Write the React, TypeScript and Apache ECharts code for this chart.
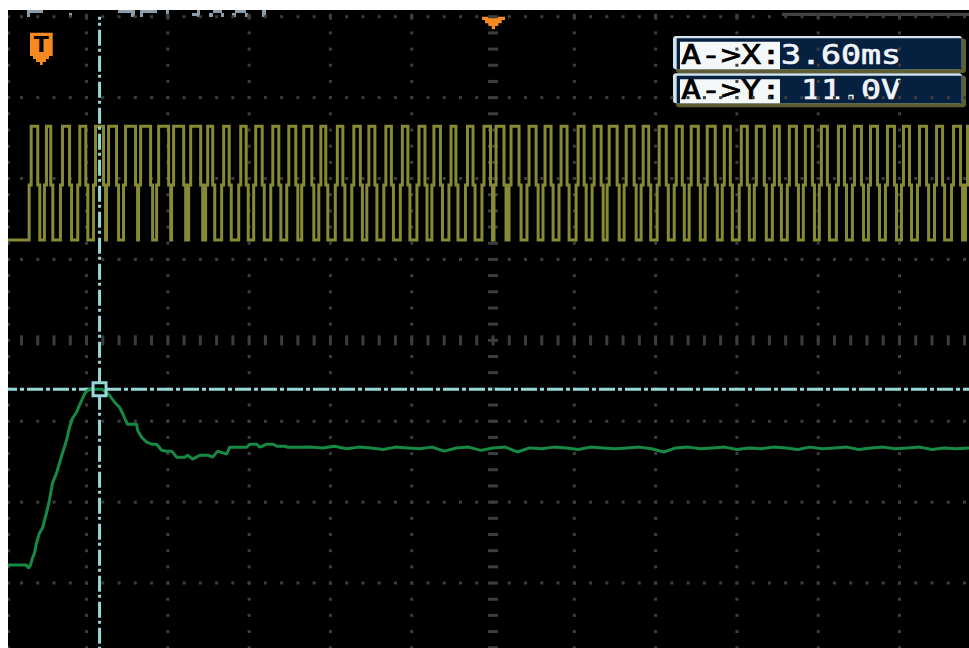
import React, { useEffect, useRef } from "react";
import * as echarts from "echarts";

// Axes in screen divisions: time (trigger at 0) and level
const X_MIN = -5.966;
const X_MAX = 5.855;
const Y_MIN = -3.803;
const Y_MAX = 4.083;

const GRID_COLS = [-6, -5, -4, -3, -2, -1, 1, 2, 3, 4, 5, 6];
const GRID_ROWS = [-4, -3, -2, -1, 1, 2, 3, 4];
const MINOR_STEP = 0.2;

// CH1 (yellow) PWM signal: displayed levels and edge sample spacing
const ch1High = 2.645;
const ch1Mid = 1.92;
const ch1Low = 1.24;
const ch1Edge = 0.025;
const ch1Rise = [
  -5.681, -5.493, -5.296, -5.083, -4.889, -4.729, -4.52, -4.335, -4.113, -3.929,
  -3.719, -3.51, -3.313, -3.103, -2.919, -2.709, -2.512, -2.328, -2.118, -1.915,
  -1.712, -1.527, -1.318, -1.115, -0.911, -0.727, -0.517, -0.314, -0.111, 0.037,
  0.222, 0.443, 0.64, 0.837, 1.047, 1.244, 1.429, 1.638, 1.847, 2.044,
  2.254, 2.438, 2.635, 2.845, 3.054, 3.239, 3.461, 3.645, 3.842, 4.039,
  4.249, 4.446, 4.643, 4.852, 5.049, 5.246, 5.456, 5.665, 5.837,
];
const ch1Fall = [
  -5.6, -5.44, -5.209, -5.009, -4.791, -4.631, -4.397, -4.212, -3.99, -3.805,
  -3.596, -3.448, -3.245, -3.036, -2.839, -2.635, -2.426, -2.229, -2.057, -1.847,
  -1.632, -1.453, -1.25, -1.047, -0.837, -0.647, -0.456, -0.246, -0.031, 0.135,
  0.32, 0.53, 0.714, 0.911, 1.121, 1.33, 1.527, 1.736, 1.915, 2.131,
  2.328, 2.525, 2.734, 2.919, 3.128, 3.337, 3.522, 3.732, 3.929, 4.113,
  4.323, 4.532, 4.729, 4.938, 5.123, 5.333, 5.53, 5.751, 5.95,
];

// CH2 (green) step response
const ch2Time = [
  -5.966, -5.739, -5.714, -5.69, -5.665, -5.64, -5.616, -5.579, -5.542, -5.493,
  -5.456, -5.419, -5.369, -5.333, -5.296, -5.246, -5.209, -5.172, -5.123, -5.086,
  -5.049, -5.012, -4.963, -4.803, -4.717, -4.655, -4.594, -4.557, -4.52, -4.495,
  -4.384, -4.372, -4.323, -4.261, -4.2, -4.138, -4.076, -4.015, -3.953, -3.892,
  -3.793, -3.756, -3.695, -3.608, -3.51, -3.448, -3.387, -3.276, -3.239, -3.03,
  -2.993, -2.906, -2.869, -2.783, -2.709, -2.66, -2.562, -2.525, -2.377,
  -2.25, -2.1, -1.95, -1.8, -1.65, -1.5, -1.35, -1.2, -1.05, -0.9,
  -0.75, -0.6, -0.45, -0.3, -0.15, 0, 0.15, 0.3, 0.45, 0.6,
  0.75, 0.9, 1.05, 1.2, 1.35, 1.5, 1.65, 1.8, 1.95, 2.1,
  2.25, 2.4, 2.55, 2.7, 2.85, 3.0, 3.15, 3.3, 3.45, 3.6,
  3.75, 3.9, 4.05, 4.2, 4.35, 4.5, 4.65, 4.8, 4.95, 5.1,
  5.25, 5.4, 5.55, 5.7, 5.855,
];
const ch2Level = [
  -2.778, -2.778, -2.815, -2.778, -2.691, -2.63, -2.506, -2.383, -2.321, -2.136,
  -1.975, -1.765, -1.642, -1.519, -1.395, -1.235, -1.074, -0.963, -0.889, -0.802,
  -0.716, -0.642, -0.605, -0.605, -0.679, -0.765, -0.827, -0.901, -0.988, -1.037,
  -1.037, -1.111, -1.198, -1.259, -1.284, -1.284, -1.358, -1.37, -1.37, -1.444,
  -1.444, -1.42, -1.469, -1.42, -1.42, -1.444, -1.37, -1.407, -1.321, -1.321,
  -1.284, -1.284, -1.321, -1.284, -1.284, -1.309, -1.309, -1.321, -1.321,
  -1.32, -1.33, -1.31, -1.34, -1.32, -1.33, -1.35, -1.32, -1.33, -1.34,
  -1.32, -1.37, -1.33, -1.32, -1.36, -1.33, -1.32, -1.38, -1.33, -1.34,
  -1.32, -1.33, -1.35, -1.32, -1.33, -1.34, -1.33, -1.32, -1.34, -1.38,
  -1.33, -1.32, -1.34, -1.33, -1.32, -1.35, -1.33, -1.34, -1.32, -1.33,
  -1.35, -1.32, -1.34, -1.33, -1.32, -1.35, -1.33, -1.32, -1.34, -1.33,
  -1.32, -1.35, -1.33, -1.34, -1.33,
];

// Cursor A
const cursorATime = -4.84;
const cursorALevel = -0.606;
const cursorTop = 4.0;

const readoutLabels = ["A->X:", "A->Y:"];
const readoutValues = ["3.60ms", " 11.0V"];

const YELLOW = "#878a34";
const GREEN = "#168a44";
const CYAN = "#96d7d7";
const GRIDC = "#3d3d3d";
const ORANGE = "#f6891f";

export default function App() {
  const ref = useRef<HTMLDivElement>(null);

  useEffect(() => {
    if (!ref.current) return;
    const chart = echarts.init(ref.current, null, { renderer: "svg" });

    const ch1Data: number[][] = [[X_MIN, ch1Low]];
    ch1Rise.forEach((r, i) => {
      const f = ch1Fall[i];
      ch1Data.push(
        [r - ch1Edge, ch1Low], [r - ch1Edge, ch1Mid], [r, ch1Mid], [r, ch1High],
        [f, ch1High], [f, ch1Mid], [f + ch1Edge, ch1Mid], [f + ch1Edge, ch1Low]
      );
    });
    const ch2Data = ch2Time.map((t, i) => [t, ch2Level[i]]);

    const minorT: number[] = [];
    for (let n = -30; n <= 30; n++) minorT.push(n * MINOR_STEP);
    const minorV: number[] = [];
    for (let m = -20; m <= 21; m++) minorV.push(m * MINOR_STEP);

    const gridRender = (_params: any, api: any) => {
      const children: any[] = [];
      const dot = (t: number, v: number, w: number, h: number) => {
        const p = api.coord([t, v]);
        children.push({
          type: "rect",
          shape: { x: p[0] - w / 2, y: p[1] - h / 2, width: w, height: h },
          style: { fill: GRIDC },
        });
      };
      GRID_COLS.forEach((k) => minorV.forEach((v) => dot(k, v, 3, 3)));
      GRID_ROWS.forEach((r) => minorT.forEach((t) => dot(t, r, 3, 3)));
      GRID_COLS.forEach((k) => dot(k, 4, 3, 6));
      minorV.forEach((v) => dot(0, v, 10, 3));
      minorT.forEach((t) => dot(t, 0, 3, 10));
      minorV.forEach((v) => {
        const p = api.coord([X_MIN, v]);
        children.push({
          type: "rect",
          shape: { x: p[0], y: p[1] - 1.5, width: 2, height: 3 },
          style: { fill: GRIDC },
        });
      });
      return { type: "group", children };
    };

    const frag = (x: number, y: number, w: number, h: number) => ({
      type: "rect",
      shape: { x, y, width: w, height: h },
      style: { fill: "#8b9caa" },
    });

    const boxes = [
      { light: [665, 26, 289, 33.3], olive: [668, 28.5, 290, 34.5], navy: [668.7, 28.3, 285, 31], white: [672, 31.7, 100, 27.6], ty: 44.7 },
      { light: [665, 63.3, 289, 30], olive: [668, 65.5, 290, 31.8], navy: [668.7, 65.7, 285, 27.6], white: [672, 69.3, 100, 24], ty: 80 },
    ];
    const boxEls: any[] = [];
    boxes.forEach((b, i) => {
      const r = (a: number[], fill: string, rad = 0) => ({
        type: "rect",
        shape: { x: a[0], y: a[1], width: a[2], height: a[3], r: rad },
        style: { fill },
      });
      boxEls.push(r(b.olive, "#5e5e30", 3));
      boxEls.push(r(b.light, "#d3e3ee", 3));
      boxEls.push(r(b.navy, "#062040"));
      boxEls.push(r(b.white, "#f4f8f8"));
      const txt = (x: number, text: string, fill: string) => ({
        type: "text",
        x,
        y: b.ty,
        scaleX: 1.278,
        style: {
          text,
          fontSize: 26,
          fontFamily: "DejaVu Sans Mono",
          fill,
          stroke: fill,
          lineWidth: 0.7,
          align: "left",
          verticalAlign: "middle",
        },
      });
      boxEls.push(txt(673, readoutLabels[i], "#000"));
      boxEls.push(txt(773, readoutValues[i], "#f0f4f8"));
    });

    const option: any = {
      animation: false,
      backgroundColor: "#000",
      grid: { left: 0, right: 0, top: 0, bottom: 0, containLabel: false },
      xAxis: { type: "value", min: X_MIN, max: X_MAX, show: false },
      yAxis: { type: "value", min: Y_MIN, max: Y_MAX, show: false },
      series: [
        { type: "custom", silent: true, z: 1, renderItem: gridRender, data: [[0, 0]] },
        {
          type: "line",
          name: "CH1",
          z: 2,
          silent: true,
          symbol: "none",
          data: ch1Data,
          lineStyle: { color: YELLOW, width: 3, join: "miter" },
        },
        {
          type: "line",
          z: 3,
          silent: true,
          symbol: "none",
          data: [[cursorATime, cursorTop], [cursorATime, Y_MIN]],
          lineStyle: { color: CYAN, width: 3, type: [16, 3, 3, 4], dashOffset: 13 },
        },
        {
          type: "line",
          z: 3,
          silent: true,
          symbol: "none",
          data: [[X_MIN, cursorALevel], [X_MAX, cursorALevel]],
          lineStyle: { color: CYAN, width: 3, type: [16, 3, 4, 3], dashOffset: 7 },
        },
        {
          type: "scatter",
          z: 4,
          silent: true,
          symbol: "rect",
          symbolSize: 14,
          data: [[cursorATime, cursorALevel]],
          itemStyle: { color: "#000", opacity: 1 },
        },
        {
          type: "line",
          name: "CH2",
          z: 5,
          silent: true,
          symbol: "none",
          data: ch2Data,
          lineStyle: { color: GREEN, width: 3 },
        },
        {
          type: "scatter",
          z: 6,
          silent: true,
          symbol: "rect",
          symbolSize: 13,
          data: [[cursorATime, cursorALevel]],
          itemStyle: { color: "rgba(0,0,0,0)", borderColor: CYAN, borderWidth: 3, opacity: 1 },
        },
      ],
      graphic: [
        {
          type: "group",
          z: 100,
          silent: true,
          children: [
            frag(19, 0, 16, 3), frag(19, 0, 3, 7), frag(61, 3, 3, 4),
            frag(110, 0, 15, 3), frag(123, 0, 4, 7),
            frag(132, 0, 17, 3), frag(132, 0, 3, 7), frag(158, 0, 3, 7),
            frag(184, 3, 8, 3), frag(189, 0, 3, 7),
            frag(201, 3, 4, 4), frag(205, 0, 9, 3), frag(213, 3, 3, 4),
            frag(224, 3, 4, 4), frag(227, 0, 11, 3), frag(237, 3, 3, 4),
            frag(254, 0, 4, 7),
            { type: "rect", shape: { x: 774, y: 2.7, width: 187, height: 3.3 }, style: { fill: "#444" } },
            {
              type: "polygon",
              shape: {
                points: [
                  [474, 6.7], [497, 6.7], [497, 10], [493.7, 10], [493.7, 13.3], [490.3, 13.3],
                  [490.3, 16], [487, 16], [487, 19.3], [483.7, 19.3], [483.7, 16], [480.3, 16],
                  [480.3, 13.3], [477, 13.3], [477, 10], [474, 10],
                ],
              },
              style: { fill: ORANGE },
            },
            {
              type: "polygon",
              shape: {
                points: [
                  [22, 22.7], [44.7, 22.7], [44.7, 46], [41, 46], [41, 49], [38, 49], [38, 52],
                  [34.7, 52], [34.7, 55], [32, 55], [32, 52], [28, 52], [28, 49], [25, 49],
                  [25, 46], [22, 46],
                ],
              },
              style: { fill: ORANGE },
            },
            {
              type: "text",
              x: 33.3,
              y: 34,
              style: {
                text: "T",
                fontSize: 22,
                fontWeight: "bold",
                fontFamily: "DejaVu Sans",
                fill: "#000",
                align: "center",
                verticalAlign: "middle",
              },
            },
            ...boxEls,
          ],
        },
      ],
    };

    chart.setOption(option);
    return () => chart.dispose();
  }, []);

  return (
    <div
      ref={ref}
      style={{ position: "fixed", left: 8, top: 10, width: 961, height: 638, background: "#000" }}
    />
  );
}
